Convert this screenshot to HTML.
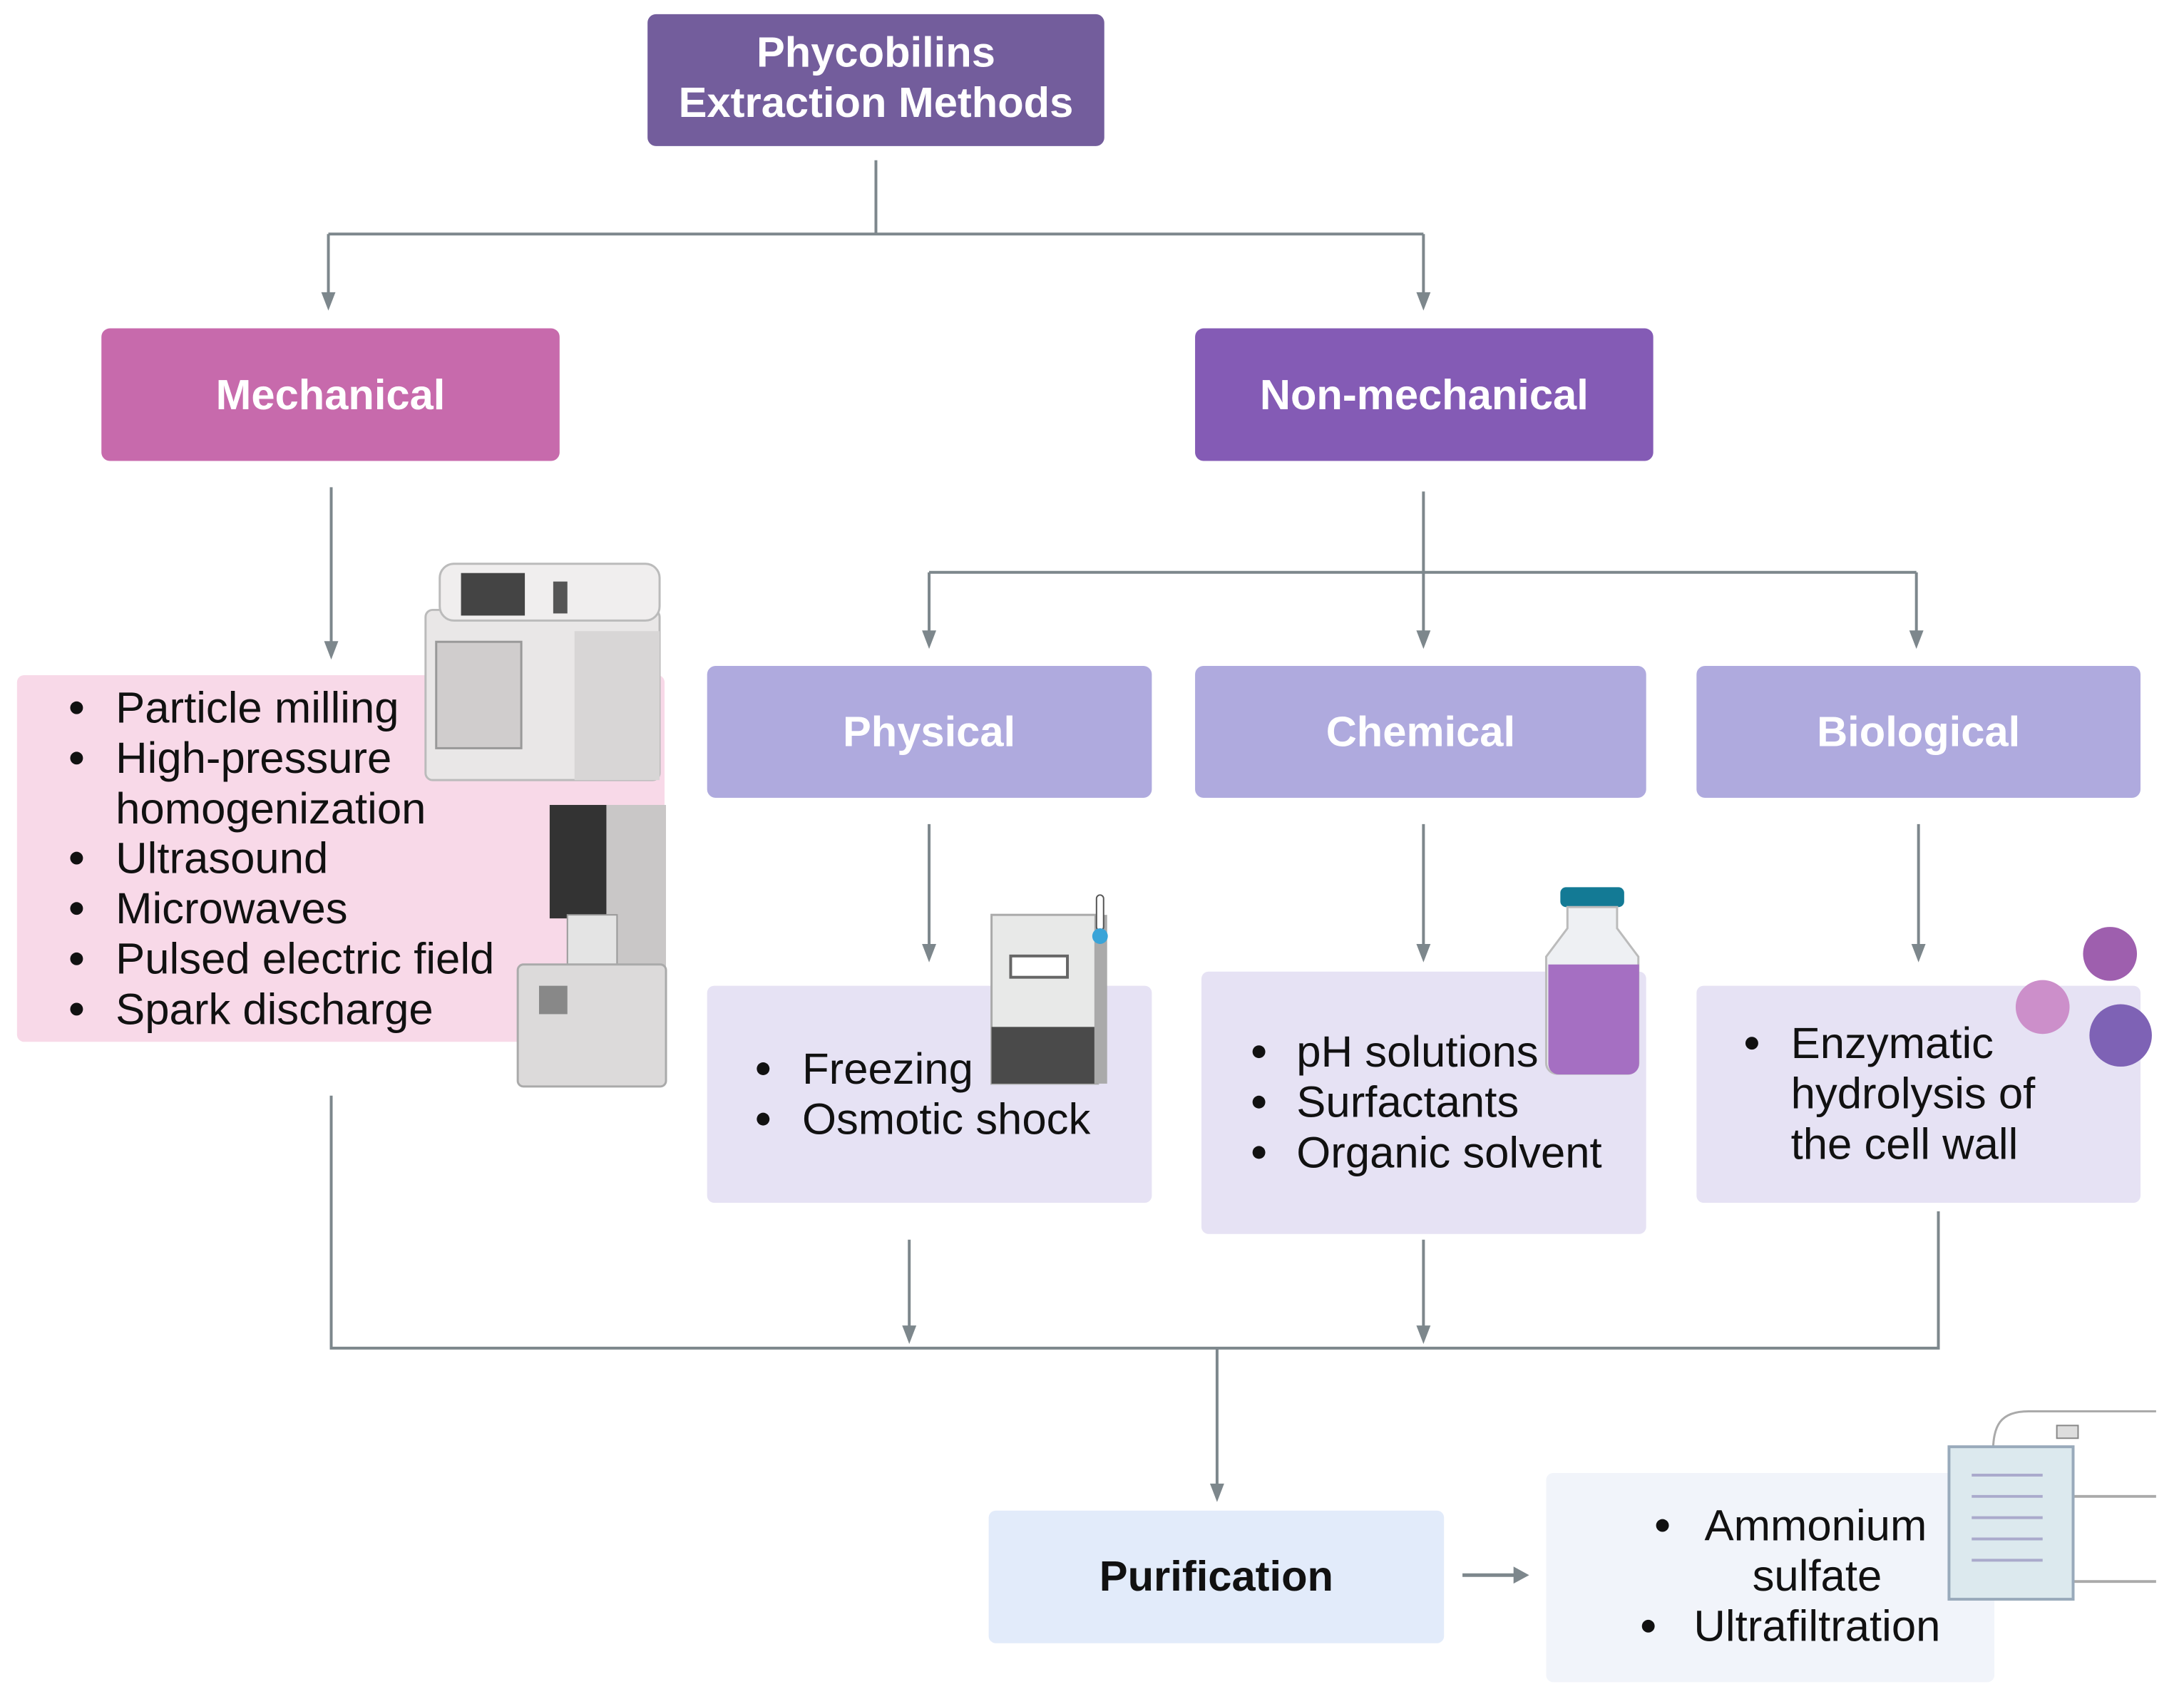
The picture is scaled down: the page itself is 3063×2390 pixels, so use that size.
<!DOCTYPE html>
<html><head><meta charset="utf-8"><style>
html,body{margin:0;padding:0;background:#fff}
svg{display:block}
text{font-family:"Liberation Sans",sans-serif}
.h{font-weight:bold;fill:#fff;font-size:60px;text-anchor:middle}
.ln{stroke:#7d878c;stroke-width:4;fill:none}
.ah{fill:#7d878c}
</style></head><body>
<svg width="3063" height="2390" viewBox="0 0 3063 2390" xmlns="http://www.w3.org/2000/svg">
<g transform="scale(0.9947)">
<!-- connectors -->
<g class="ln">
<path d="M1235 226V330M463 330H2007M463 330V418M2007 330V418"/>
<path d="M467 687V910"/>
<path d="M2007 693V895M1310 807H2702M1310 807V895M2702 807V895"/>
<path d="M1310 1162V1337M2007 1162V1337M2705 1162V1337"/>
<path d="M467 1545V1901H2733V1708M1282 1748V1875M2007 1748V1875M1716 1901V2098"/>
<path d="M2062 2221H2140" stroke-width="5"/>
</g>
<g class="ah">
<path d="M453 412h20l-10 26z"/><path d="M1997 412h20l-10 26z"/>
<path d="M457 904h20l-10 26z"/>
<path d="M1300 889h20l-10 26z"/><path d="M1997 889h20l-10 26z"/><path d="M2692 889h20l-10 26z"/>
<path d="M1300 1331h20l-10 26z"/><path d="M1997 1331h20l-10 26z"/><path d="M2695 1331h20l-10 26z"/>
<path d="M1272 1869h20l-10 26z"/><path d="M1997 1869h20l-10 26z"/>
<path d="M1706 2092h20l-10 26z"/>
<path d="M2134 2209v24l22-12z"/>
</g>
<!-- header boxes -->
<rect x="913" y="20" width="644" height="186" rx="12" fill="#735d9c"/>
<text class="h" x="1235" y="94">Phycobilins</text>
<text class="h" x="1235" y="165">Extraction Methods</text>
<rect x="143" y="463" width="646" height="187" rx="12" fill="#c76aac"/>
<text class="h" x="466" y="577">Mechanical</text>
<rect x="1685" y="463" width="646" height="187" rx="12" fill="#845bb5"/>
<text class="h" x="2008" y="577">Non-mechanical</text>
<rect x="997" y="939" width="627" height="186" rx="12" fill="#afaade"/>
<text class="h" x="1310" y="1052" fill="#f3f1fb">Physical</text>
<rect x="1685" y="939" width="636" height="186" rx="12" fill="#afaade"/>
<text class="h" x="2003" y="1052">Chemical</text>
<rect x="2392" y="939" width="626" height="186" rx="12" fill="#afaade"/>
<text class="h" x="2705" y="1052">Biological</text>
<!-- content boxes -->
<rect x="24" y="952" width="913" height="517" rx="10" fill="#f8d9e8"/>
<rect x="997" y="1390" width="627" height="306" rx="10" fill="#e6e2f4"/>
<rect x="1694" y="1370" width="627" height="370" rx="10" fill="#e6e2f4"/>
<rect x="2392" y="1390" width="626" height="306" rx="10" fill="#e6e2f4"/>
<rect x="1394" y="2130" width="642" height="187" rx="10" fill="#e2ebfa"/>
<text x="1715" y="2243" font-size="60" font-weight="bold" fill="#111" text-anchor="middle">Purification</text>
<rect x="2180" y="2077" width="632" height="295" rx="10" fill="#f1f4fa"/>
<!-- illustrations -->
<g>
<rect x="600" y="860" width="330" height="240" rx="10" fill="#e9e7e7" stroke="#bbb" stroke-width="3"/>
<rect x="620" y="795" width="310" height="80" rx="20" fill="#f0eeee" stroke="#bbb" stroke-width="3"/>
<rect x="650" y="808" width="90" height="60" fill="#444"/>
<rect x="780" y="820" width="20" height="45" fill="#555"/>
<rect x="615" y="905" width="120" height="150" fill="#d0cdcd" stroke="#999" stroke-width="3"/>
<rect x="810" y="890" width="120" height="210" fill="#d8d6d6"/>
<rect x="775" y="1135" width="80" height="160" fill="#333"/>
<rect x="855" y="1135" width="84" height="230" fill="#c9c7c7"/>
<rect x="800" y="1290" width="70" height="70" fill="#e4e4e4" stroke="#999" stroke-width="2"/>
<rect x="730" y="1360" width="209" height="172" rx="8" fill="#dcdada" stroke="#aaa" stroke-width="3"/>
<rect x="760" y="1390" width="40" height="40" fill="#888"/>
</g>
<g>
<rect x="1398" y="1290" width="150" height="238" fill="#e8e9e8" stroke="#aaa" stroke-width="3"/>
<rect x="1425" y="1348" width="80" height="30" fill="#fff" stroke="#666" stroke-width="4"/>
<rect x="1398" y="1448" width="150" height="80" fill="#4a4a4a"/>
<rect x="1543" y="1290" width="18" height="238" fill="#aaa"/>
<rect x="1546" y="1262" width="10" height="50" rx="5" fill="#fff" stroke="#555" stroke-width="2"/>
<circle cx="1551" cy="1320" r="11" fill="#3aa4d8"/>
</g>
<g>
<rect x="2200" y="1251" width="90" height="28" rx="8" fill="#137a95"/>
<path d="M2210 1279h70v30l30 40v150a15 15 0 0 1-15 15h-100a15 15 0 0 1-15-15v-150l30-40z" fill="#eef0f3" stroke="#bbb" stroke-width="3"/>
<path d="M2183 1360h128v140a15 15 0 0 1-15 15h-98a15 15 0 0 1-15-15z" fill="#a56fc2"/>
</g>
<g>
<circle cx="2975" cy="1345" r="38" fill="#9e5fae"/>
<circle cx="2880" cy="1420" r="38" fill="#cc8fca"/>
<circle cx="2990" cy="1460" r="44" fill="#7e62b5"/>
</g>
<g>
<path d="M2810 2050c0-40 10-60 50-60h180" stroke="#aaa" stroke-width="3" fill="none"/>
<path d="M2920 2110h120M2920 2230h120" stroke="#aaa" stroke-width="4" fill="none"/>
<rect x="2748" y="2040" width="175" height="215" fill="#dce9ee" stroke="#9ab" stroke-width="4"/>
<g stroke="#aac" stroke-width="4"><path d="M2780 2080h100M2780 2110h100M2780 2140h100M2780 2170h100M2780 2200h100"/></g>
<rect x="2900" y="2010" width="30" height="18" fill="#ddd" stroke="#888" stroke-width="2"/>
</g>
<!-- lists -->
<g font-size="62" fill="#111">
<text x="163" y="1019">Particle milling</text>
<text x="163" y="1090">High-pressure</text>
<text x="163" y="1161">homogenization</text>
<text x="163" y="1231">Ultrasound</text>
<text x="163" y="1302">Microwaves</text>
<text x="163" y="1373">Pulsed electric field</text>
<text x="163" y="1444">Spark discharge</text>
<text x="1131" y="1528">Freezing</text>
<text x="1131" y="1599">Osmotic shock</text>
<text x="1828" y="1504">pH solutions</text>
<text x="1828" y="1575">Surfactants</text>
<text x="1828" y="1646">Organic solvent</text>
<text x="2525" y="1492">Enzymatic</text>
<text x="2525" y="1563">hydrolysis of</text>
<text x="2525" y="1634">the cell wall</text>
<text x="2560" y="2172" text-anchor="middle">Ammonium</text>
<text x="2562" y="2243" text-anchor="middle">sulfate</text>
<text x="2562" y="2314" text-anchor="middle">Ultrafiltration</text>
</g>
<g fill="#111">
<circle cx="108" cy="998" r="9"/><circle cx="108" cy="1069" r="9"/><circle cx="108" cy="1210" r="9"/><circle cx="108" cy="1281" r="9"/><circle cx="108" cy="1352" r="9"/><circle cx="108" cy="1423" r="9"/>
<circle cx="1076" cy="1507" r="9"/><circle cx="1076" cy="1578" r="9"/>
<circle cx="1775" cy="1483" r="9"/><circle cx="1775" cy="1554" r="9"/><circle cx="1775" cy="1625" r="9"/>
<circle cx="2470" cy="1471" r="9"/>
<circle cx="2344" cy="2151" r="9"/><circle cx="2324" cy="2293" r="9"/>
</g>
</g>
</svg>
</body></html>
